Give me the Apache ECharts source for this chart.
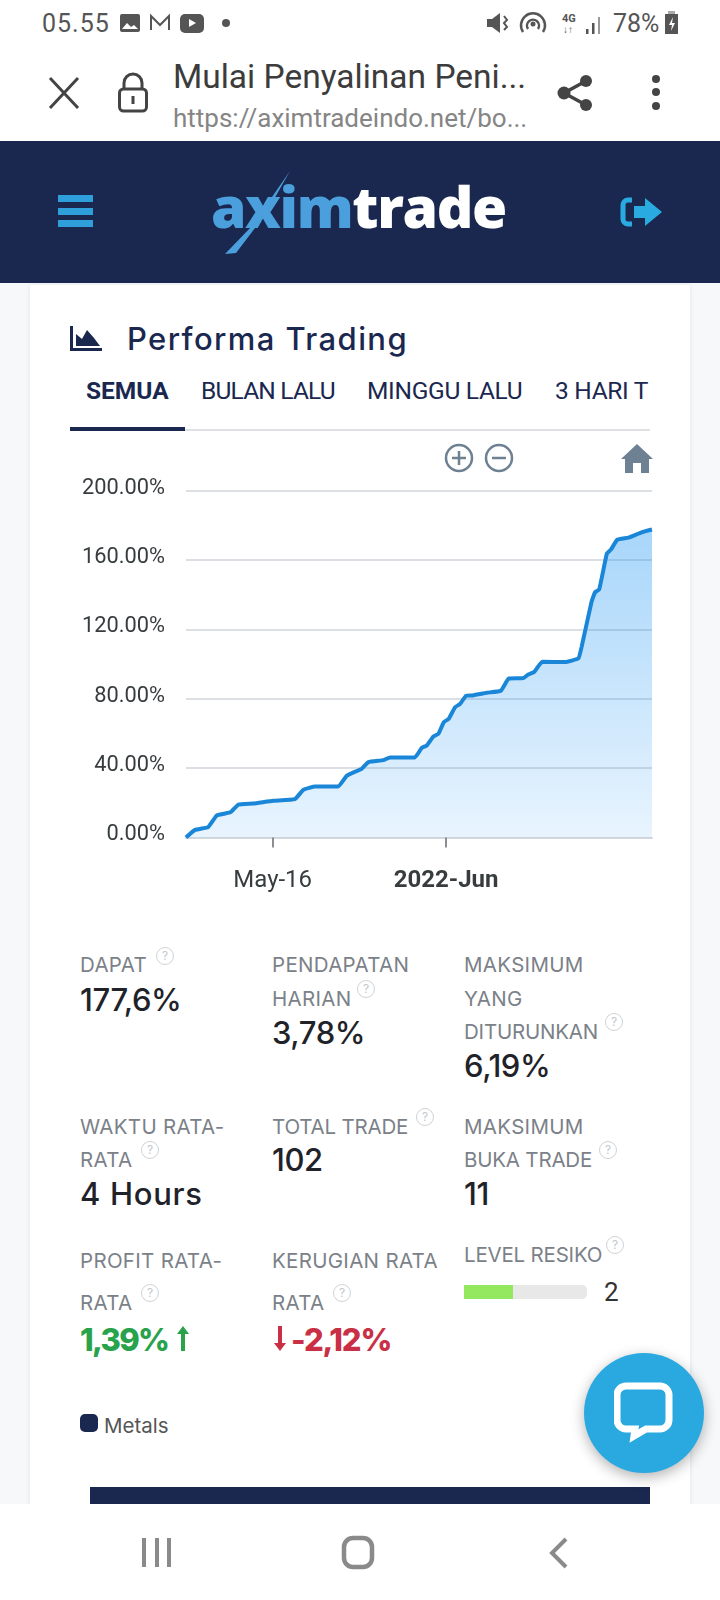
<!DOCTYPE html>
<html>
<head>
<meta charset="utf-8">
<title>Performa Trading</title>
<script src="https://cdn.jsdelivr.net/npm/echarts@6/dist/echarts.min.js"></script>
<style>
  html, body { margin: 0; padding: 0; background: #f6f8fa; }
  #screen { position: relative; width: 720px; height: 1600px; overflow: hidden; background: #f6f8fa; font-family: Inter, sans-serif; }
  .abs { position: absolute; }
  .t { position: absolute; white-space: nowrap; transform: translateY(-50%); line-height: 1; }
  .label { font-family: Inter; font-size: 20.5px; letter-spacing: 0.3px; color: #7b8188; }
  .value { font-family: Inter; font-size: 31px; font-weight: 500; letter-spacing: -0.4px; color: #1f2329; }
  .tab { font-family: Roboto; font-size: 24.5px; color: #1a2850; }
  .help { position: absolute; width: 16px; height: 16px; border: 1.5px solid #cfd3d7; border-radius: 50%; font: 12px Inter; color: #c4c8cc; text-align: center; line-height: 16px; transform: translate(-50%, -50%); }
  #chart { position: absolute; left: 0; top: 440px; width: 720px; height: 460px; }
</style>
</head>
<body>
<div id="screen">
  <!-- status bar -->
  <div class="abs" style="left:0;top:0;width:720px;height:141px;background:#fff"></div>
  <div class="t" style="left:42px;top:23px;font:25px Roboto;color:#555;letter-spacing:1px">05.55</div>
  <svg class="abs" style="left:118px;top:12px" width="100" height="22" viewBox="0 0 100 22">
    <rect x="2" y="2" width="20" height="18" rx="2" fill="#555"/><path d="M4 17l5-6 4 4 3-2 4 4z" fill="#fff"/>
    <path d="M33 18V4l9 9 9-9v14" fill="none" stroke="#555" stroke-width="2"/>
    <rect x="62" y="2" width="24" height="19" rx="5" fill="#555"/><path d="M71 7l7 4-7 4z" fill="#fff"/>
  </svg>
  <div class="abs" style="left:222px;top:19px;width:8px;height:8px;border-radius:50%;background:#555"></div>
  <svg class="abs" style="left:484px;top:8px" width="124" height="30" viewBox="0 0 124 30">
    <path d="M3 11h5l8-6v20l-8-6H3z" fill="#555"/><path d="M20 8l3 4-3 3 3 4-3 3" fill="none" stroke="#555" stroke-width="2"/>
    <path d="M39 24a12 12 0 1 1 20 0" fill="none" stroke="#555" stroke-width="2.5"/><path d="M44 21a6 6 0 1 1 10 0" fill="none" stroke="#555" stroke-width="2.5"/><circle cx="49" cy="16" r="2.5" fill="#555"/>
    <rect x="102" y="21" width="2.5" height="5" fill="#555"/><rect x="108" y="15" width="2.5" height="11" fill="#555"/><rect x="114" y="9" width="2" height="17" fill="#999"/>
  </svg>
  <div class="t" style="left:562px;top:18px;font:bold 11px Roboto;color:#555">4G</div>
  <div class="t" style="left:563px;top:29px;font:bold 10px Roboto;color:#555">↓↑</div>
  <div class="t" style="left:613px;top:23px;font:25px Roboto;color:#555">78%</div>
  <svg class="abs" style="left:664px;top:11px" width="15" height="24" viewBox="0 0 15 24">
    <rect x="4" y="0" width="7" height="3" fill="#aaa"/><rect x="1" y="3" width="13" height="20" fill="#555"/><path d="M9 6l-4 8h3l-1 6 4-8H8z" fill="#fff"/>
  </svg>

  <!-- browser bar -->
  <svg class="abs" style="left:46px;top:76px" width="36" height="34" viewBox="0 0 36 34"><path d="M4 2l28 30M32 2L4 32" stroke="#444" stroke-width="3"/></svg>
  <svg class="abs" style="left:116px;top:72px" width="34" height="42" viewBox="0 0 34 42">
    <path d="M8 17v-6a9 9 0 0 1 18 0v6" fill="none" stroke="#444" stroke-width="3"/><rect x="3.5" y="17" width="27" height="22" rx="4" fill="none" stroke="#444" stroke-width="3"/><rect x="15.5" y="24" width="3" height="8" fill="#444"/>
  </svg>
  <div class="t" style="left:173px;top:76px;font:33.5px Roboto;color:#3c3c3c">Mulai Penyalinan Peni...</div>
  <div class="t" style="left:173px;top:118px;font:26px Roboto;color:#858585">https://aximtradeindo.net/bo...</div>
  <svg class="abs" style="left:556px;top:72px" width="40" height="42" viewBox="0 0 40 42">
    <path d="M30 9L8 21l22 12" fill="none" stroke="#444" stroke-width="3.5"/><circle cx="30" cy="9" r="6" fill="#444"/><circle cx="8" cy="21" r="6.5" fill="#444"/><circle cx="30" cy="33" r="6" fill="#444"/>
  </svg>
  <svg class="abs" style="left:650px;top:72px" width="12" height="42" viewBox="0 0 12 42"><circle cx="6" cy="7" r="4" fill="#444"/><circle cx="6" cy="20" r="4" fill="#444"/><circle cx="6" cy="34" r="4" fill="#444"/></svg>

  <!-- site header -->
  <div class="abs" style="left:0;top:141px;width:720px;height:142px;background:#1a2850"></div>
  <div class="abs" style="left:58px;top:195px;width:35px;height:7px;background:#2f9fdc"></div>
  <div class="abs" style="left:58px;top:208px;width:35px;height:7px;background:#2f9fdc"></div>
  <div class="abs" style="left:58px;top:220px;width:35px;height:7px;background:#2f9fdc"></div>
  <div class="t" style="left:211px;top:206px;font:800 57px 'Open Sans';letter-spacing:-1.4px;color:#fff"><span style="color:#4a9fdc">axim</span>trade</div>
  <svg class="abs" style="left:220px;top:168px" width="80" height="90" viewBox="0 0 80 90"><path d="M70 3L32 58 5 86l11-1 29-38z" fill="#4a9fdc"/></svg>
  <svg class="abs" style="left:620px;top:195px" width="44" height="34" viewBox="0 0 44 34">
    <path d="M12 5H8a5 5 0 0 0-5 5v14a5 5 0 0 0 5 5h4" fill="none" stroke="#29abe2" stroke-width="5"/><path d="M14 11h11V3l17 14-17 14v-8H14z" fill="#29abe2"/>
  </svg>

  <!-- card -->
  <div class="abs" style="left:30px;top:285px;width:660px;height:1240px;background:#fff;box-shadow:0 0 4px rgba(40,50,70,.10)"></div>
  <svg class="abs" style="left:70px;top:325px" width="32" height="27" viewBox="0 0 32 27">
    <path d="M1.5 1v23.5H32" fill="none" stroke="#1a2850" stroke-width="3"/><path d="M6 21V9l6 5 5-9 7 8 6 8z" fill="#1a2850"/>
  </svg>
  <div class="t" style="left:127px;top:338px;font:500 31px Inter;letter-spacing:1.4px;color:#1a2850">Performa Trading</div>
  <div class="t tab" style="left:86px;top:391px;font-weight:700">SEMUA</div>
  <div class="t tab" style="left:201px;top:391px;letter-spacing:-0.8px">BULAN LALU</div>
  <div class="t tab" style="left:367px;top:391px;letter-spacing:-0.3px">MINGGU LALU</div>
  <div class="t tab" style="left:555px;top:391px;letter-spacing:-0.3px">3 HARI T</div>
  <div class="abs" style="left:70px;top:429px;width:580px;height:2px;background:#dfe1e4"></div>
  <div class="abs" style="left:70px;top:427px;width:115px;height:4px;background:#1a2850"></div>

  <div id="chart"></div>

  <!-- chart toolbar -->
  <svg class="abs" style="left:442px;top:442px" width="212" height="34" viewBox="0 0 212 34">
    <g fill="none" stroke="#6e8192" stroke-width="2.5">
      <circle cx="17" cy="16" r="13"/><path d="M10 16h14M17 9v14"/>
      <circle cx="57" cy="16" r="13"/><path d="M50 16h14"/>
    </g>
    <path d="M195 2l16 15h-4v14h-8v-10h-8v10h-8V17h-4z" fill="#6e8192"/>
  </svg>

  <div id="stats"></div>

  <!-- up and down arrows next to average profit and loss -->
  <svg class="abs" style="left:176px;top:1325px" width="14" height="27" viewBox="0 0 14 27"><path d="M7 1L1 9h4v17h4V9h4z" fill="#28a24b"/></svg>
  <svg class="abs" style="left:273px;top:1325px" width="14" height="27" viewBox="0 0 14 27"><path d="M7 26l6-8H9V1H5v17H1z" fill="#c92f45"/></svg>

  <!-- level bar -->
  <div class="abs" style="left:464px;top:1285px;width:123px;height:14px;background:#e8e8e8;border-radius:0 5px 5px 0"></div>
  <div class="abs" style="left:464px;top:1285px;width:49px;height:14px;background:#93e860"></div>
  <div class="t" style="left:604px;top:1292px;font:26px Roboto;color:#333">2</div>

  <!-- legend -->
  <div class="abs" style="left:80px;top:1414px;width:18px;height:18px;border-radius:5px;background:#1a2850"></div>
  <div class="t" style="left:104px;top:1425px;font:20.5px Inter;color:#555">Metals</div>

  <div class="abs" style="left:90px;top:1487px;width:560px;height:20px;background:#1a2850"></div>

  <!-- bottom nav -->
  <div class="abs" style="left:0;top:1504px;width:720px;height:96px;background:#fff"></div>
  <svg class="abs" style="left:130px;top:1530px" width="460" height="46" viewBox="0 0 460 46" fill="none" stroke="#8a8a8a">
    <path d="M14 8v29M27 8v29M39 8v29" stroke-width="4"/>
    <rect x="214" y="8" width="28" height="29" rx="9" stroke-width="4.5"/>
    <path d="M436 9l-14 14 14 14" stroke-width="4"/>
  </svg>

  <!-- chat button -->
  <div class="abs" style="left:584px;top:1353px;width:120px;height:120px;border-radius:50%;background:#29a9e0;box-shadow:0 4px 14px rgba(0,0,0,.3)"></div>
  <svg class="abs" style="left:614px;top:1382px" width="60" height="62" viewBox="0 0 60 62">
    <path d="M12 4h34a9 9 0 0 1 9 9v25a9 9 0 0 1-9 9H32l-12 7 1-7h-9a9 9 0 0 1-9-9V13a9 9 0 0 1 9-9z" fill="none" stroke="#fff" stroke-width="7"/>
  </svg>
</div>

<script>
// equity curve (time, percent)
var times = [
  '2022-05-08T00:00', '2022-05-08T20:00', '2022-05-10T01:00', '2022-05-10T20:00', '2022-05-11T12:00',
  '2022-05-12T03:00', '2022-05-12T20:00', '2022-05-14T05:00', '2022-05-16T01:00', '2022-05-18T01:00',
  '2022-05-18T20:00', '2022-05-19T22:00', '2022-05-22T01:00', '2022-05-22T20:00', '2022-05-23T14:00',
  '2022-05-24T05:00', '2022-05-24T20:00', '2022-05-26T05:00', '2022-05-26T20:00', '2022-05-29T03:00',
  '2022-05-29T18:00', '2022-05-30T05:00', '2022-05-30T20:00', '2022-05-31T07:00', '2022-05-31T19:00',
  '2022-06-01T06:00', '2022-06-01T20:00', '2022-06-02T07:00', '2022-06-02T20:00', '2022-06-03T09:00',
  '2022-06-04T18:00', '2022-06-06T01:00', '2022-06-06T19:00', '2022-06-08T03:00', '2022-06-08T14:00',
  '2022-06-09T03:00', '2022-06-09T21:00', '2022-06-11T23:00', '2022-06-13T05:00', '2022-06-13T12:00',
  '2022-06-14T10:00', '2022-06-14T18:00', '2022-06-15T03:00', '2022-06-15T20:00', '2022-06-16T05:00',
  '2022-06-16T19:00', '2022-06-17T20:00', '2022-06-19T01:00', '2022-06-20T00:00'
];
var profit = [
  0, 4.4, 6, 12.7, 13.7,
  14.6, 19, 19.6, 21.2, 22.1,
  27.5, 29.4, 29.4, 35.6, 37.9,
  39.6, 43.5, 44.6, 46.2, 46.2,
  51.7, 53, 58.3, 59.8, 66.5,
  68.5, 75.2, 77, 81.7, 81.9,
  83.5, 84.6, 91.7, 91.9, 94,
  95.4, 101.3, 101.2, 103.3, 109.8,
  135.8, 141.5, 143, 163.7, 166,
  171.7, 172.9, 176, 177.6
];
var xStart = '2022-05-08T00:00';
var xEnd = '2022-06-20T00:00';
var xTicks = ['2022-05-16T00:00', '2022-06-01T00:00'];
var xTickLabels = ['May-16', '{b|2022-Jun}'];

// metric texts
var statLabels = [
  [80, 965, 'DAPAT'], [272, 965, 'PENDAPATAN'], [272, 998.5, 'HARIAN'],
  [464, 965, 'MAKSIMUM'], [464, 998.5, 'YANG'], [464, 1031.5, 'DITURUNKAN'],
  [80, 1127, 'WAKTU RATA-'], [80, 1160, 'RATA'], [272, 1127, 'TOTAL TRADE'],
  [464, 1127, 'MAKSIMUM'], [464, 1160, 'BUKA TRADE'],
  [80, 1261, 'PROFIT RATA-'], [80, 1302.5, 'RATA'], [272, 1261, 'KERUGIAN RATA'], [272, 1302.5, 'RATA'],
  [464, 1255, 'LEVEL RESIKO']
];
var statValues = [
  [80, 999, '177,6%'], [272, 1032, '3,78%'], [464, 1065, '6,19%'],
  [80, 1193, '4 Hours'], [272, 1159, '102'], [464, 1193, '11']
];
var helpIcons = [
  [165, 956], [366, 989], [614, 1022], [150, 1150], [425, 1117], [608, 1150],
  [150, 1293], [342, 1293], [615, 1245]
];
var tightLabels = ['LEVEL RESIKO', 'DITURUNKAN', 'TOTAL TRADE', 'BUKA TRADE'];

var stats = document.getElementById('stats');
function addText(cls, x, y, text, extra) {
  var el = document.createElement('div');
  el.className = 't ' + cls;
  el.style.left = x + 'px';
  el.style.top = y + 'px';
  if (extra) el.style.cssText += extra;
  el.textContent = text;
  stats.appendChild(el);
}
statLabels.forEach(function (s) {
  addText('label', s[0], s[1], s[2], tightLabels.indexOf(s[2]) >= 0 ? 'letter-spacing:-0.2px' : '');
});
statValues.forEach(function (s) {
  addText('value', s[0], s[1], s[2], s[2] === '4 Hours' ? 'letter-spacing:0.7px' : '');
});
helpIcons.forEach(function (h) {
  var el = document.createElement('div');
  el.className = 'help';
  el.style.left = h[0] + 'px';
  el.style.top = h[1] + 'px';
  el.textContent = '?';
  stats.appendChild(el);
});
addText('value', 80, 1339, '1,39%', 'font-weight:800;letter-spacing:-1.7px;color:#28a24b');
addText('value', 291, 1339, '-2,12%', 'font-weight:800;letter-spacing:-1.2px;color:#c92f45');

function ms(s) { return new Date(s).getTime(); }

var myChart = echarts.init(document.getElementById('chart'));
var tickValues = xTicks.map(ms);

myChart.setOption({
  animation: false,
  grid: { left: 186, right: 68, top: 50.7, bottom: 62.5 },
  xAxis: {
    type: 'value',
    min: ms(xStart),
    max: ms(xEnd),
    axisLine: { show: true, lineStyle: { color: '#d5d8de', width: 2 } },
    axisTick: { show: true, length: 10, lineStyle: { color: '#8b8f94', width: 2 }, customValues: tickValues },
    splitLine: { show: false },
    axisLabel: {
      margin: 31,
      fontFamily: 'Roboto',
      fontSize: 24,
      color: '#373d3f',
      customValues: tickValues,
      formatter: function (value) {
        return xTickLabels[tickValues.indexOf(value)] || '';
      },
      rich: { b: { fontFamily: 'Roboto', fontSize: 24, fontWeight: 'bold', color: '#373d3f' } }
    }
  },
  yAxis: {
    type: 'value',
    min: 0,
    max: 200,
    interval: 40,
    axisLine: { show: false },
    axisTick: { show: false },
    splitLine: { lineStyle: { color: '#dcdfe3', width: 2 } },
    axisLabel: {
      margin: 21,
      verticalAlign: 'bottom',
      lineHeight: 5,
      fontFamily: 'Roboto',
      fontSize: 21.8,
      color: '#373d3f',
      formatter: function (value) { return value.toFixed(2) + '%'; }
    }
  },
  series: [
    {
      type: 'line',
      smooth: 0.12,
      showSymbol: false,
      data: times.map(function (t, i) { return [ms(t), profit[i]]; }),
      lineStyle: { color: '#1a86d8', width: 4 },
      areaStyle: {
        color: {
          type: 'linear', x: 0, y: 0, x2: 0, y2: 1,
          colorStops: [
            { offset: 0, color: 'rgba(33,150,243,0.56)' },
            { offset: 1, color: 'rgba(33,150,243,0.15)' }
          ]
        }
      }
    }
  ]
});
</script>
</body>
</html>
